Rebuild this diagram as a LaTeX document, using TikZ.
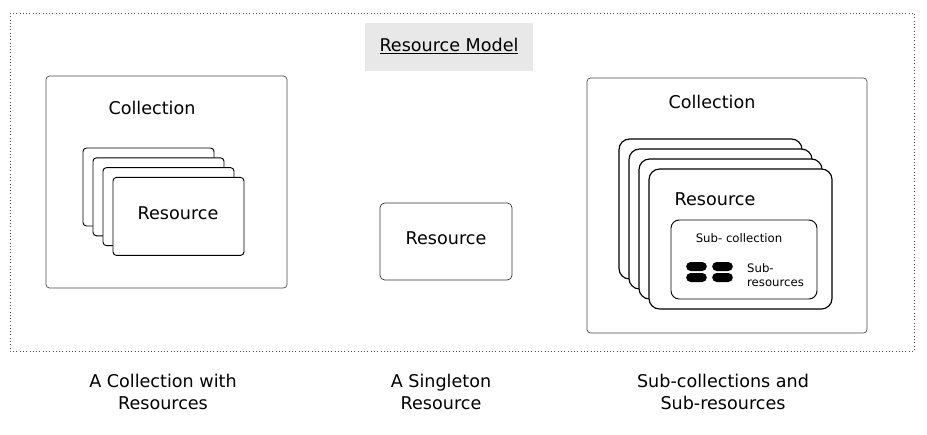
\documentclass[tikz,border=0pt]{standalone}
\usepackage{fontspec}
\setmainfont{DejaVu Sans}
\usetikzlibrary{positioning}
\tikzstyle{frame_box} = [
    draw=black!70, 
    fill=white, 
    rounded corners=3pt, 
    line width=0.6pt, 
    inner sep=0pt
]
\tikzstyle{card} = [
    draw=black, 
    fill=white, 
    rounded corners=5pt, 
    line width=0.8pt, 
    inner sep=0pt
]
\tikzstyle{blob} = [
    fill=black, 
    rounded corners=0.135cm, 
    minimum width=0.62cm, 
    minimum height=0.27cm, 
    inner sep=0pt
]
\tikzstyle{big_text} = [
    font=\fontsize{15}{18.7}\selectfont, 
    align=center
]
\tikzstyle{small_text} = [
    font=\fontsize{10}{12.5}\selectfont, 
    align=left
]

\begin{document}
\begin{tikzpicture}[x=0.03cm, y=-0.03cm]
\useasboundingbox (0,0) rectangle (927,434);
% dotted frame of the model
\draw [black!70, dotted, line width=0.8pt] (10,13) rectangle (914,351);
\node [fill=black!9, minimum width=5.04cm, minimum height=1.44cm] (title) at (449,47) {};
\node [big_text] (title_text) at (449,46) {\underline{Resource Model}};

% collection with resources
\node [frame_box, minimum width=7.23cm, minimum height=6.36cm] (coll_a) at (166.5,182) {};
\node [big_text] (coll_a_text) at (152,108) {Collection};
\foreach \i in {0,...,3}
    \node [card, rounded corners=3pt, minimum width=3.93cm, minimum height=2.34cm] (res_a\i) at (148.5+10*\i,187+9.8*\i) {};
\node [big_text] (res_a_text) at (178,213) {Resource};

% singleton
\node [card, rounded corners=4pt, line width=0.6pt, draw=black!80, minimum width=3.96cm, minimum height=2.31cm] (single) at (446,241.5) {};
\node [big_text] (single_text) at (446,238) {Resource};

% sub-collections and sub-resources
\node [frame_box, minimum width=8.4cm, minimum height=7.65cm] (coll_b) at (727,205.5) {};
\node [big_text] (coll_b_text) at (712,102) {Collection};
\foreach \i in {0,...,3}
    \node [card, rounded corners=9pt, line width=1pt, minimum width=5.49cm, minimum height=4.2cm] (res_b\i) at (710.5+10*\i,209+10*\i) {};
\node [big_text] (res_b_text) at (715,199) {Resource};
\node [card, rounded corners=7pt, minimum width=4.38cm, minimum height=2.37cm] (sub_coll) at (744,259.5) {};
\node [small_text] (sub_coll_text) at (739,238) {Sub- collection};
\node [blob] (blob_a) at (696.5,266.5) {};
\node [blob] (blob_b) at (722.5,266.5) {};
\node [blob] (blob_c) at (696.5,277.5) {};
\node [blob] (blob_d) at (722.5,277.5) {};
\node [small_text, anchor=west] (sub_res_text) at (743,275) {Sub-\\resources};

% captions
\node [big_text] (cap_a) at (163,392) {A Collection with\\Resources};
\node [big_text] (cap_b) at (441,392) {A Singleton\\Resource};
\node [big_text] (cap_c) at (723,392) {Sub-collections and\\Sub-resources};
\end{tikzpicture}
\end{document}
